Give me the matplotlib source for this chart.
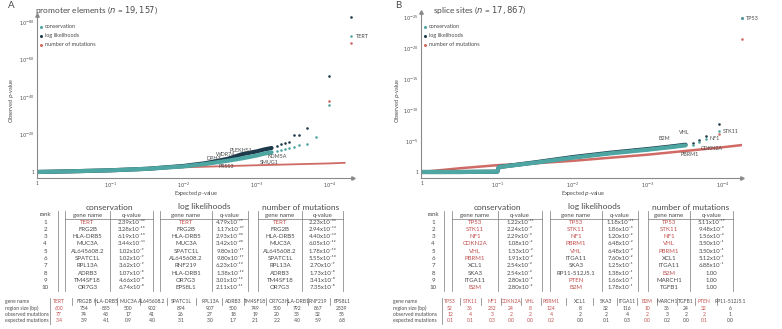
import matplotlib
matplotlib.use('Agg')
import matplotlib.pyplot as plt
from matplotlib.lines import Line2D

# ---------------- DATA ----------------
# Panel A: promoter elements; curves: (expected -log10 p, observed -log10 p)
a_cons_exp = [0, 0.5, 1.0, 1.5, 2.0, 2.3, 2.6, 2.8, 3.0, 3.1, 3.2]
a_cons_obs = [0, 0.4, 0.9, 1.7, 3.0, 4.3, 6.0, 7.3, 8.8, 9.8, 10.5]
a_ll_exp = [0, 0.5, 1.0, 1.5, 2.0, 2.3, 2.6, 2.8, 3.0, 3.1, 3.2]
a_ll_obs = [0, 0.4, 0.9, 1.7, 3.2, 4.7, 7.0, 9.5, 11.0, 12.0, 12.8]
a_mut_exp = [0, 1.0, 2.0, 3.0, 4.0, 4.2]
a_mut_obs = [0, 1.2, 2.5, 3.6, 4.6, 4.9]
# top-ranked points
a_cons_pt_exp = [3.28, 3.33, 3.38, 3.44, 3.50, 3.58, 3.68, 3.81, 3.98, 4.28]
a_cons_pt_obs = [11.2, 11.8, 12.4, 13.0, 13.5, 14.2, 15.0, 18.5, 35.6, 72.7]
a_ll_pt_exp = [3.28, 3.33, 3.38, 3.44, 3.50, 3.58, 3.68, 3.98, 4.28]
a_ll_pt_obs = [14.0, 14.8, 15.5, 16.2, 19.7, 19.7, 23.5, 51.0, 82.5]
a_mut_pt_exp = [3.98, 4.28]
a_mut_pt_obs = [37.9, 69.0]

# Panel B: splice sites
b_cons_exp = [0, 0.5, 1.0, 1.02, 1.5, 2.0, 2.5, 3.0, 3.3, 3.5]
b_cons_obs = [0, 0.0, 0.05, 0.8, 1.5, 2.3, 3.0, 3.6, 4.0, 4.3]
b_ll_exp = [0, 0.5, 1.0, 1.02, 1.5, 2.0, 2.5, 3.0, 3.3, 3.5]
b_ll_obs = [0, 0.0, 0.05, 0.8, 1.55, 2.4, 3.1, 3.7, 4.1, 4.4]
b_mut_exp = [0, 0.5, 1.0, 1.5, 2.0, 2.5, 3.0, 3.5, 4.0, 4.25]
b_mut_obs = [0, 0.6, 1.1, 1.4, 1.8, 2.3, 2.8, 3.4, 4.0, 4.35]
b_cons_pt_exp = [3.6, 3.68, 3.77, 3.95, 4.25]
b_cons_pt_obs = [4.4, 4.8, 5.4, 6.6, 24.9]
b_ll_pt_exp = [3.6, 3.68, 3.77, 3.95, 4.25]
b_ll_pt_obs = [4.6, 5.2, 5.8, 7.7, 24.9]
b_mut_pt_exp = [3.95, 4.25]
b_mut_pt_obs = [6.1, 21.4]

# Table A
a_ranks = list(range(1, 11))
a_cons_genes = ['TERT', 'FRG2B', 'HLA-DRB5', 'MUC3A', 'AL645608.2', 'SPATC1L', 'RPL13A', 'ADRB3', 'TM4SF18', 'OR7G3']
a_cons_q = ['2.39e-46', '3.28e-13', '6.19e-13', '3.44e-11', '1.02e-9', '1.02e-9', '3.62e-9', '1.07e-8', '4.66e-8', '6.74e-8']
a_ll_genes = ['TERT', 'FRG2B', 'HLA-DRB5', 'MUC3A', 'SPATC1L', 'AL645608.2', 'RNF219', 'HLA-DRB1', 'OR7G3', 'EPS8L1']
a_ll_q = ['4.79e-79', '1.17e-47', '2.93e-33', '3.42e-20', '9.80e-17', '9.80e-17', '6.23e-13', '1.38e-12', '3.01e-12', '2.11e-11']
a_mut_genes = ['TERT', 'FRG2B', 'HLA-DRB5', 'MUC3A', 'AL645608.2', 'SPATC1L', 'RPL13A', 'ADRB3', 'TM4SF18', 'OR7G3']
a_mut_q = ['2.23e-43', '2.94e-14', '4.40e-13', '6.05e-12', '1.78e-10', '5.55e-10', '2.70e-9', '1.73e-8', '3.41e-8', '7.35e-8']
a_red_genes = ['TERT']

a_bot_genes = ['TERT', 'FRG2B', 'HLA-DRB5', 'MUC3A', 'AL645608.2', 'SPATC1L', 'RPL13A', 'ADRB3', 'TM4SF18', 'OR7G3', 'HLA-DRB1', 'RNF219', 'EPS8L1']
a_bot_size = [600, 754, 835, 500, 902, 894, 907, 500, 749, 500, 792, 867, 2339]
a_bot_obs = [77, 74, 43, 17, 41, 26, 27, 18, 19, 20, 33, 32, 55]
a_bot_exp = [3.4, 3.9, 4.1, 0.9, 4.0, 3.1, 3.0, 1.7, 2.1, 2.2, 4.0, 5.9, 6.8]

# Table B
b_cons_genes = ['TP53', 'STK11', 'NF1', 'CDKN2A', 'VHL', 'PBRM1', 'XCL1', 'SKA3', 'ITGA11', 'B2M']
b_cons_q = ['1.22e-11', '2.24e-3', '2.29e-3', '1.08e-2', '1.53e-2', '1.91e-2', '2.54e-2', '2.54e-2', '2.80e-2', '2.80e-2']
b_ll_genes = ['TP53', 'STK11', 'NF1', 'PBRM1', 'VHL', 'ITGA11', 'SKA3', 'RP11-512J5.1', 'PTEN', 'B2M']
b_ll_q = ['1.18e-11', '1.86e-3', '1.20e-2', '6.48e-2', '6.48e-2', '7.60e-2', '1.25e-1', '1.38e-1', '1.66e-1', '1.78e-1']
b_mut_genes = ['TP53', 'STK11', 'NF1', 'VHL', 'PBRM1', 'XCL1', 'ITGA11', 'B2M', 'MARCH1', 'TGFB1']
b_mut_q = ['5.11e-19', '9.48e-3', '1.56e-2', '3.50e-1', '3.50e-1', '5.12e-1', '6.88e-1', '1.00', '1.00', '1.00']
b_red_genes = ['TP53', 'STK11', 'NF1', 'CDKN2A', 'VHL', 'PBRM1', 'B2M', 'PTEN']

b_bot_genes = ['TP53', 'STK11', 'NF1', 'CDKN2A', 'VHL', 'PBRM1', 'XCL1', 'SKA3', 'ITGA11', 'B2M', 'MARCH1', 'TGFB1', 'PTEN', 'RP11-512J5.1']
b_bot_size = [52, 36, 232, 24, 8, 124, 8, 32, 116, 10, 36, 24, 32, 6]
b_bot_obs = [12, 4, 3, 2, 2, 4, 2, 2, 4, 2, 3, 2, 2, 1]
b_bot_exp = [0.1, 0.1, 0.3, 0.0, 0.0, 0.2, 0.0, 0.1, 0.3, 0.0, 0.2, 0.0, 0.1, 0.0]

# ---------------- STYLE ----------------
W, H = 782, 329
plt.rcParams['font.family'] = ['Lato', 'DejaVu Sans']
TEAL = '#4ea6a3'
DARK = '#1d3a4c'
RED = '#cf6a64'
TXT = '#4a4a4a'
REDTXT = '#c0504d'
AX = '#8a8a8a'
SUP = str.maketrans('-0123456789', '\u207b\u2070\u00b9\u00b2\u00b3\u2074\u2075\u2076\u2077\u2078\u2079')


def qfmt(s):
    if 'e' not in s:
        return s
    m, e = s.split('e')
    return m + 'x10' + e.translate(SUP)


fig = plt.figure(figsize=(W / 100, H / 100), dpi=100)


def fx(x):
    return x / W


def fy(y):
    return 1 - y / H


def txt(x, y, s, size=4.6, color=TXT, ha='center', **kw):
    fig.text(fx(x), fy(y), s, fontsize=size, color=color, ha=ha, va='center', **kw)


def vline(x, y0, y1, lw=0.5, color='#777777'):
    fig.add_artist(Line2D([fx(x), fx(x)], [fy(y0), fy(y1)], lw=lw, color=color, transform=fig.transFigure))


def hline(x0, x1, y, lw=0.5, color='#777777'):
    fig.add_artist(Line2D([fx(x0), fx(x1)], [fy(y), fy(y)], lw=lw, color=color, transform=fig.transFigure))


def make_axes(left, right, top, bottom, x0px, y0px, pxdx, pxdy):
    ax = fig.add_axes([fx(left), fy(bottom), (right - left) / W, (bottom - top) / H])
    ax.set_xlim((left - x0px) / pxdx, (right - x0px) / pxdx)
    ax.set_ylim(-(bottom - y0px) / pxdy, (y0px - top) / pxdy)
    for s in ['top', 'right']:
        ax.spines[s].set_visible(False)
    for s in ['left', 'bottom']:
        ax.spines[s].set_color(AX)
        ax.spines[s].set_linewidth(0.8)
    ax.tick_params(length=0, labelsize=3.6, colors=TXT, pad=2)
    ax.plot(1, 0, '>', ms=2.5, color=AX, transform=ax.transAxes, clip_on=False)
    ax.plot(0, 1, '^', ms=2.5, color=AX, transform=ax.transAxes, clip_on=False)
    ax.patch.set_alpha(0)
    return ax


def draw_curves(ax, lines, pts):
    for (ex, ob, c, lw) in lines:
        ax.plot(ex, ob, color=c, lw=lw, solid_capstyle='round', zorder=2)
    for (ex, ob, c) in pts:
        ax.scatter(ex, ob, s=3.5, color=c, zorder=3, linewidths=0, clip_on=False)


def legend(x, y):
    for i, (lab, c) in enumerate([('conservation', TEAL), ('log likelihoods', DARK), ('number of mutations', RED)]):
        fig.add_artist(Line2D([fx(x)], [fy(y + 9 * i)], marker='o', ms=2.2, color=c, mec='none',
                              transform=fig.transFigure))
        txt(x + 4, y + 9 * i, lab, size=4.0, ha='left')


# ---------------- PANEL A ----------------
axA = make_axes(37, 353, 15, 178, 37, 172, 73.3, 1.875)
axA.set_xticks([0, 1, 2, 3, 4])
axA.set_xticklabels(['1', '$10^{-1}$', '$10^{-2}$', '$10^{-3}$', '$10^{-4}$'])
axA.set_yticks([0, 20, 40, 60, 80])
axA.set_yticklabels(['1', '$10^{-20}$', '$10^{-40}$', '$10^{-60}$', '$10^{-80}$'])
draw_curves(axA, [(a_mut_exp, a_mut_obs, RED, 1.3), (a_ll_exp, a_ll_obs, DARK, 3.0), (a_cons_exp, a_cons_obs, TEAL, 3.0)],
            [(a_mut_pt_exp, a_mut_pt_obs, RED), (a_ll_pt_exp, a_ll_pt_obs, DARK), (a_cons_pt_exp, a_cons_pt_obs, TEAL)])
for lab, x, y in [('TERT', 356, 36), ('PLEKHS1', 241, 151), ('WDR74', 226, 155), ('DPH3', 214, 159),
                  ('KDM5A', 277, 157), ('SMUG1', 269, 163), ('PRSS3', 226, 167)]:
    txt(x, y, lab, size=3.9, ha='left' if lab == 'TERT' else 'center')
txt(8, 6, 'A', size=7, ha='left')
fig.text(fx(35), fy(10), 'promoter elements ($\\mathit{n}$ = $\\mathit{19,157}$)', fontsize=6, color=TXT, ha='left', va='center')
txt(12, 100, 'Observed $p$-value', size=4.0, rotation=90)
txt(196, 194, 'Expected $p$-value', size=4.0)
legend(41, 27)

# ---------------- PANEL B ----------------
axB = make_axes(421, 742, 12, 178, 422, 172, 75.3, 6.2)
axB.set_xticks([0, 1, 2, 3, 4])
axB.set_xticklabels(['1', '$10^{-1}$', '$10^{-2}$', '$10^{-3}$', '$10^{-4}$'])
axB.set_yticks([0, 5, 10, 15, 20, 25])
axB.set_yticklabels(['1', '$10^{-5}$', '$10^{-10}$', '$10^{-15}$', '$10^{-20}$', '$10^{-25}$'])
draw_curves(axB, [(b_mut_exp, b_mut_obs, RED, 1.8), (b_ll_exp, b_ll_obs, DARK, 3.0), (b_cons_exp, b_cons_obs, TEAL, 3.0)],
            [(b_mut_pt_exp, b_mut_pt_obs, RED), (b_ll_pt_exp, b_ll_pt_obs, DARK), (b_cons_pt_exp, b_cons_pt_obs, TEAL)])
for lab, x, y in [('TP53', 746, 18), ('STK11', 723, 131), ('NF1', 710, 138), ('VHL', 684, 133),
                  ('B2M', 664, 139), ('PBRM1', 690, 154), ('CDKN2A', 712, 149)]:
    txt(x, y, lab, size=3.9, ha='left' if lab in ('TP53', 'STK11', 'NF1') else 'center')
txt(395, 6, 'B', size=7, ha='left')
fig.text(fx(433), fy(10), 'splice sites ($\\mathit{n}$ = $\\mathit{17,867}$)', fontsize=6, color=TXT, ha='left', va='center')
txt(397, 100, 'Observed $p$-value', size=4.0, rotation=90)
txt(583, 194, 'Expected $p$-value', size=4.0)
legend(425, 27)


# ---------------- TABLES ----------------
def top_table(xr, groups, red):
    y_sub, y0, dy = 215, 222, 7.3
    txt(xr, y_sub, 'rank', size=4.4)
    for i, r in enumerate(a_ranks):
        txt(xr, y0 + i * dy, str(r), size=4.4)
    for (title, l, m, r, genes, q) in groups:
        txt((l + r) / 2, 207, title, size=6.0)
        txt((l + m) / 2, y_sub, 'gene name', size=4.4)
        txt((m + r) / 2, y_sub, 'q-value', size=4.4)
        for x in (l, m, r):
            vline(x, 211, 291)
        hline(l, r, 218.5)
        for i in range(10):
            g = genes[i]
            txt((l + m) / 2, y0 + i * dy, g, size=4.4, color=REDTXT if g in red else TXT)
            txt((m + r) / 2, y0 + i * dy, qfmt(q[i]), size=4.3)


def bottom_table(xlab, xline, centers, genes, size, obs, exp, red):
    rows = [301.5, 308, 314.3, 320.5]
    for lab, y in zip(['gene name', 'region size (bp)', 'observed mutations', 'expected mutations'], rows):
        txt(xlab, y, lab, size=3.6, ha='left')
    vline(xline, 298, 323.5)
    for i, c in enumerate(centers):
        col = REDTXT if genes[i] in red else TXT
        for s, y in zip([genes[i], str(size[i]), str(obs[i]), f'{exp[i]:.1f}'], rows):
            txt(c, y, s, size=3.6, color=col)
        if i < len(centers) - 1:
            vline((c + centers[i + 1]) / 2, 298, 305)


top_table(45, [('conservation', 65, 110, 153, a_cons_genes, a_cons_q),
               ('log likelihoods', 160, 212, 248, a_ll_genes, a_ll_q),
               ('number of mutations', 258, 302, 343, a_mut_genes, a_mut_q)], a_red_genes)
vline(58, 211, 291)
top_table(433, [('conservation', 452, 498, 542, b_cons_genes, b_cons_q),
                ('log likelihoods', 550, 602, 638, b_ll_genes, b_ll_q),
                ('number of mutations', 648, 690, 733, b_mut_genes, b_mut_q)], b_red_genes)
vline(444, 211, 291)

bottom_table(5, 50, [59, 84, 106, 128, 152, 181, 210, 233, 255, 277, 297, 318, 342],
             a_bot_genes, a_bot_size, a_bot_obs, a_bot_exp, a_red_genes)
bottom_table(393, 442, [450, 470, 492, 511, 530, 551, 580, 606, 627, 647, 667, 686, 704, 730],
             b_bot_genes, b_bot_size, b_bot_obs, b_bot_exp, b_red_genes)

fig.savefig('out.png', dpi=100)
